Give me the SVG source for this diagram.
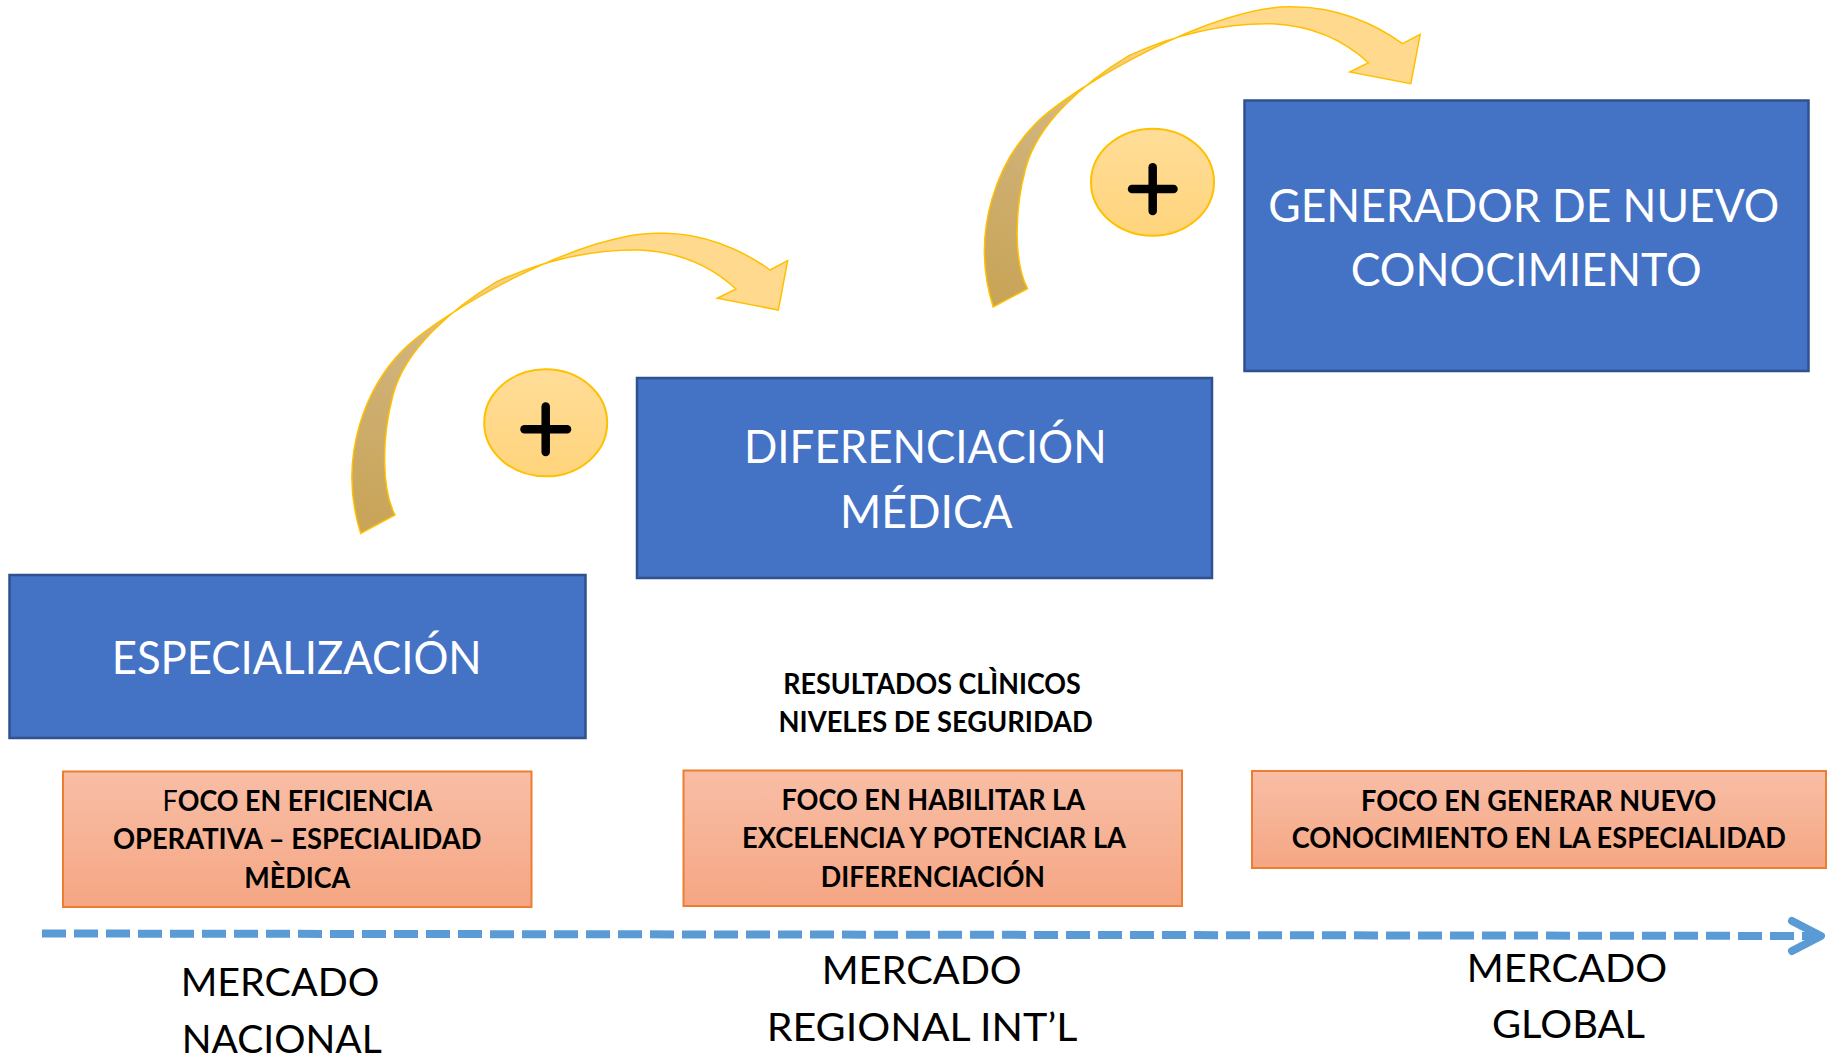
<svg xmlns="http://www.w3.org/2000/svg" width="1834" height="1062" viewBox="0 0 1834 1062">
  <style>
    .blue { fill: #4472C4; stroke: #2F528F; stroke-width: 2.5; }
    .orange { fill: url(#gOrange); stroke: #ED7D31; stroke-width: 2; }
    .plusCircle { fill: url(#gCircle); stroke: #FFC000; stroke-width: 2; }
    .plus { stroke: #000; stroke-width: 8.5; stroke-linecap: round; fill: none; }
    .big { font-family: Lato, "Open Sans", "Liberation Sans", sans-serif; font-size: 46px; fill: #FFFFFF; text-anchor: middle; }
    .bold { font-family: Lato, "Open Sans", "Liberation Sans", sans-serif; font-size: 28px; font-weight: 700; fill: #000; text-anchor: middle; }
    .market { font-family: Lato, "Open Sans", "Liberation Sans", sans-serif; font-size: 38px; fill: #000; text-anchor: middle; }
    .curve { fill: url(#gArrow); stroke: #FFC000; stroke-width: 1.5; stroke-linejoin: miter; }
    .axis { stroke: #5B9BD5; stroke-width: 8; stroke-dasharray: 24 8; fill: none; }
  </style>
  <defs>
    <linearGradient id="gOrange" x1="0" y1="0" x2="0" y2="1">
      <stop offset="0" stop-color="#F8BEA6"/>
      <stop offset="1" stop-color="#F5A683"/>
    </linearGradient>
    <linearGradient id="gCircle" x1="0" y1="0" x2="0" y2="1">
      <stop offset="0" stop-color="#FFDD98"/>
      <stop offset="1" stop-color="#FFD47C"/>
    </linearGradient>
    <linearGradient id="gArrow" x1="0.05" y1="1" x2="0.5" y2="0.1">
      <stop offset="0" stop-color="#C8A456"/>
      <stop offset="0.6" stop-color="#D1B37C"/>
      <stop offset="0.8" stop-color="#EEC986"/>
      <stop offset="1" stop-color="#FFDA8E"/>
    </linearGradient>
    <path id="curvedArrow" class="curve" d="M 360.7,533.3 C 336,455 368,385 403,350 C 440,313 585,229 663,233.3 C 700,233 740,248 770,270 L 787.7,260.7 L 778.3,310 L 717.3,298.3 L 736,289 C 710,265 680,252 640,250 C 590,249 540,262 496.7,281.7 C 450,310 405,350 393,395 C 381,440 382,490 395,515 Z"/>
    <marker id="chevron" markerUnits="userSpaceOnUse" markerWidth="40" markerHeight="40" refX="32" refY="20" orient="auto" overflow="visible">
      <path d="M 3,5 L 32,20 L 3,35" fill="none" stroke="#5B9BD5" stroke-width="8" stroke-linecap="round" stroke-linejoin="round"/>
    </marker>
  </defs>

  <rect width="1834" height="1062" fill="#FFFFFF"/>

  <g id="connectors">
    <use id="arrow-1" href="#curvedArrow"/>
    <use id="arrow-2" href="#curvedArrow" transform="translate(632.5,-226.3)"/>
    <line id="timeline" class="axis" x1="42" y1="933.5" x2="1821" y2="936" marker-end="url(#chevron)"/>
  </g>

  <g id="plus-1">
    <ellipse class="plusCircle" cx="545.7" cy="422.8" rx="61.5" ry="53.5"/>
    <line class="plus" x1="524.5" y1="429.3" x2="567" y2="429.3"/>
    <line class="plus" x1="545.7" y1="406.5" x2="545.7" y2="452"/>
  </g>
  <g id="plus-2">
    <ellipse class="plusCircle" cx="1152.5" cy="182.2" rx="61.5" ry="53.5"/>
    <line class="plus" x1="1132" y1="189" x2="1173.5" y2="189"/>
    <line class="plus" x1="1152.7" y1="167.3" x2="1152.7" y2="211"/>
  </g>

  <g id="especializacion">
    <rect class="blue" x="9.5" y="575" width="576" height="163"/>
    <text class="big" x="296.7" y="674" textLength="370" lengthAdjust="spacingAndGlyphs">ESPECIALIZACIÓN</text>
  </g>
  <g id="diferenciacion">
    <rect class="blue" x="637" y="378" width="575" height="200"/>
    <text class="big" x="925.3" y="463.3" textLength="362.7" lengthAdjust="spacingAndGlyphs">DIFERENCIACIÓN</text>
    <text class="big" x="926.3" y="528.3" textLength="172.7" lengthAdjust="spacingAndGlyphs">MÉDICA</text>
  </g>
  <g id="generador">
    <rect class="blue" x="1244.5" y="100.5" width="564" height="270.5"/>
    <text class="big" x="1523.8" y="221.7" textLength="511" lengthAdjust="spacingAndGlyphs">GENERADOR DE NUEVO</text>
    <text class="big" x="1526.2" y="285.7" textLength="351" lengthAdjust="spacingAndGlyphs">CONOCIMIENTO</text>
  </g>

  <g id="resultados">
    <text class="bold" x="932" y="694" textLength="297.5" lengthAdjust="spacingAndGlyphs">RESULTADOS CLÌNICOS</text>
    <text class="bold" x="935.7" y="731.7" textLength="314.3" lengthAdjust="spacingAndGlyphs">NIVELES DE SEGURIDAD</text>
  </g>

  <g id="foco-eficiencia">
    <rect class="orange" x="63" y="771.5" width="468.5" height="135.5"/>
    <text class="bold" x="297.5" y="810.7" textLength="270" lengthAdjust="spacingAndGlyphs"><tspan font-weight="400">F</tspan>OCO EN EFICIENCIA</text>
    <text class="bold" x="297.2" y="849.3" textLength="368.5" lengthAdjust="spacingAndGlyphs">OPERATIVA – ESPECIALIDAD</text>
    <text class="bold" x="297.2" y="888.3" textLength="106" lengthAdjust="spacingAndGlyphs">MÈDICA</text>
  </g>
  <g id="foco-excelencia">
    <rect class="orange" x="683.5" y="770.5" width="498.5" height="135.5"/>
    <text class="bold" x="933.2" y="810" textLength="303.6" lengthAdjust="spacingAndGlyphs">FOCO EN HABILITAR LA</text>
    <text class="bold" x="934" y="848.3" textLength="384" lengthAdjust="spacingAndGlyphs">EXCELENCIA Y POTENCIAR LA</text>
    <text class="bold" x="932.9" y="886.7" textLength="224.3" lengthAdjust="spacingAndGlyphs">DIFERENCIACIÓN</text>
  </g>
  <g id="foco-conocimiento">
    <rect class="orange" x="1252" y="771" width="574" height="97"/>
    <text class="bold" x="1538.6" y="810.7" textLength="355" lengthAdjust="spacingAndGlyphs">FOCO EN GENERAR NUEVO</text>
    <text class="bold" x="1538.8" y="848.3" textLength="494.3" lengthAdjust="spacingAndGlyphs">CONOCIMIENTO EN LA ESPECIALIDAD</text>
  </g>

  <g id="mercado-nacional">
    <text class="market" x="280" y="996" textLength="198.7" lengthAdjust="spacingAndGlyphs">MERCADO</text>
    <text class="market" x="281.7" y="1053.3" textLength="200" lengthAdjust="spacingAndGlyphs">NACIONAL</text>
  </g>
  <g id="mercado-regional">
    <text class="market" x="921.7" y="984" textLength="200" lengthAdjust="spacingAndGlyphs">MERCADO</text>
    <text class="market" x="922" y="1041" textLength="310.7" lengthAdjust="spacingAndGlyphs">REGIONAL INT’L</text>
  </g>
  <g id="mercado-global">
    <text class="market" x="1567" y="981.7" textLength="200.3" lengthAdjust="spacingAndGlyphs">MERCADO</text>
    <text class="market" x="1568.5" y="1038.3" textLength="153" lengthAdjust="spacingAndGlyphs">GLOBAL</text>
  </g>
</svg>
